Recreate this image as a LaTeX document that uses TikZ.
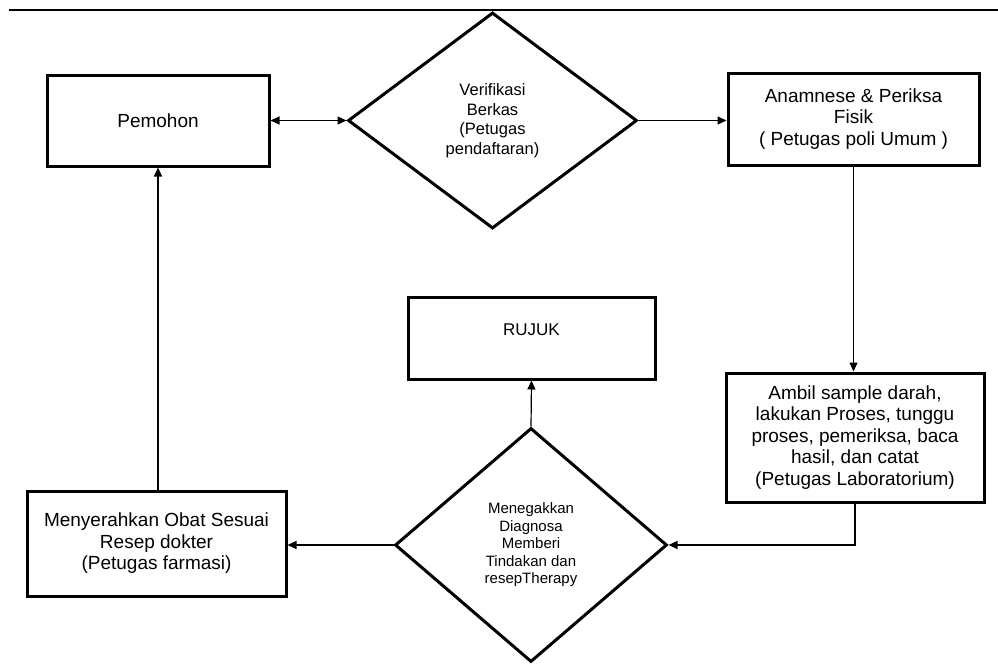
\documentclass[tikz,border=0pt]{standalone}
\usepackage{fontspec}
\setmainfont{Liberation Sans}
\usetikzlibrary{shapes.geometric,arrows.meta}
\tikzset{
  box/.style={draw, line width=3pt, rectangle, align=center, inner sep=2pt,
    font=\fontsize{19}{21.5}\selectfont},
  dia/.style={draw, line width=3pt, diamond, align=center, inner sep=0pt},
  conn/.style={line width=1.2pt, -{Triangle[length=9pt,width=8pt]}},
  conn2/.style={line width=1.2pt, {Triangle[length=9pt,width=8pt]}-{Triangle[length=9pt,width=8pt]}},
}
\begin{document}
\begin{tikzpicture}[x=1pt,y=-1pt]
\useasboundingbox (0,0) rectangle (998,664);
\draw[line width=2pt] (9,10) -- (998,10);

\node[box, minimum width=222, minimum height=91] (pemohon) at (158,120.5) {Pemohon};
\node[dia, minimum width=289, minimum height=216, font=\fontsize{16.5}{19.5}\selectfont] (verif) at (492.5,120.5)
  {Verifikasi\\Berkas\\(Petugas\\pendaftaran)};
\node[box, minimum width=251, minimum height=92] (anam) at (853.5,119)
  {Anamnese \& Periksa\\Fisik\\( Petugas poli Umum )};
\node[box, minimum width=258, minimum height=129] (ambil) at (855,437.5)
  {Ambil sample darah,\\lakukan Proses, tunggu\\proses, pemeriksa, baca\\hasil, dan catat\\ (Petugas Laboratorium)};
\node[box, minimum width=247, minimum height=82] (rujuk) at (531.5,338) {};
\node[font=\fontsize{17}{19}\selectfont] (rujuktext) at (531.5,330) {RUJUK};
\node[dia, minimum width=272, minimum height=234, font=\fontsize{15}{17.5}\selectfont] (diag) at (531,545)
  {Menegakkan\\Diagnosa\\Memberi\\Tindakan dan\\resepTherapy};
\node[box, minimum width=259, minimum height=105] (obat) at (156.5,543.5)
  {Menyerahkan Obat Sesuai\\Resep dokter\\ (Petugas farmasi)};

\draw[conn2] (pemohon.east) -- (verif.west);
\draw[conn] (verif.east) -- (anam.west |- verif.east);
\draw[conn] (anam.south) -- (anam.south |- ambil.north);
\draw[conn] (ambil.south) |- (diag.east);
\draw[conn] (diag.west) -- (obat.east |- diag.west);
\draw[conn] (diag.north) -- (rujuk.south);
\draw[conn] (pemohon.south |- obat.north) -- (pemohon.south);
\end{tikzpicture}
\end{document}
